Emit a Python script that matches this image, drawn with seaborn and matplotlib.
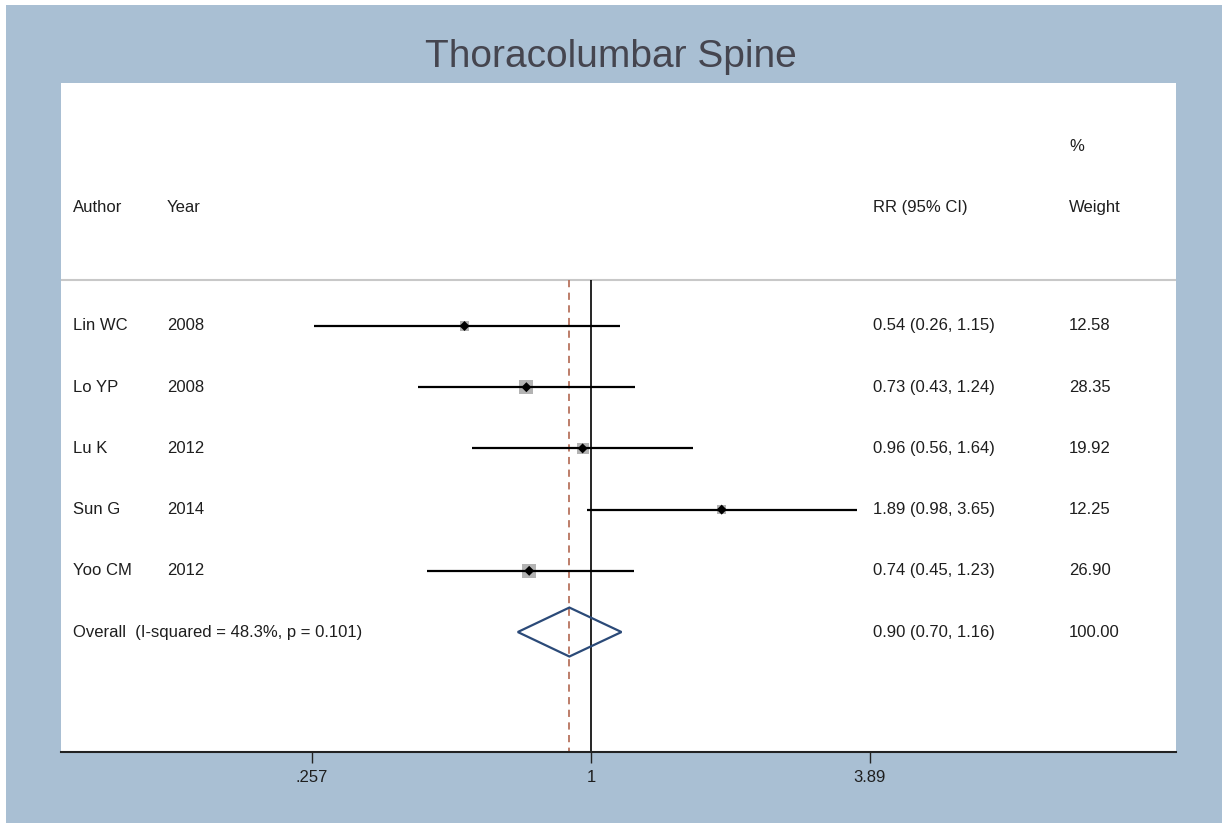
import matplotlib
matplotlib.use("Agg")
import matplotlib.pyplot as plt
from matplotlib.patches import Polygon, Rectangle
import matplotlib.transforms as mtransforms
import numpy as np
import pandas as pd
import seaborn as sns

# ---- data ----
authors = ["Lin WC", "Lo YP", "Lu K", "Sun G", "Yoo CM"]
years = ["2008", "2008", "2012", "2014", "2012"]
rr = [0.54, 0.73, 0.96, 1.89, 0.74]
ci_low = [0.26, 0.43, 0.56, 0.98, 0.45]
ci_high = [1.15, 1.24, 1.64, 3.65, 1.23]
weights = [12.58, 28.35, 19.92, 12.25, 26.90]
overall_rr = 0.90
overall_low = 0.70
overall_high = 1.16
overall_label = "Overall  (I-squared = 48.3%, p = 0.101)"
tick_values = [0.257, 1, 3.89]
tick_labels = [".257", "1", "3.89"]
title = "Thoracolumbar Spine"

df = pd.DataFrame({"author": authors, "year": years, "rr": rr,
                   "lo": ci_low, "hi": ci_high, "w": weights})
df["row"] = np.arange(len(df))

sns.set_theme(style="white")
plt.rcParams["font.family"] = ["Liberation Sans", "DejaVu Sans"]

BG = "#a9bfd3"
TXT = "#1e1e1e"

fig = plt.figure(figsize=(12.22, 8.23), dpi=100, facecolor="white")
fig.patches.append(Rectangle((6 / 1222, 0), 1, 1 - 5 / 823, transform=fig.transFigure,
                             facecolor=BG, edgecolor="none", zorder=-10))
ax = fig.add_axes([61 / 1222, (823 - 752) / 823, 1115 / 1222, (752 - 83) / 823])
ax.set_facecolor("white")

ax.set_xscale("log")
px_per_ln = 205.3
ax.set_xlim(np.exp((61 - 591) / px_per_ln), np.exp((1176 - 591) / px_per_ln))
ylo, yhi = 6.96, -3.97
ax.set_ylim(ylo, yhi)

n = len(df)
overall_row = n
sep_y = -0.75

# reference lines
ax.vlines(1, sep_y, ylo, color="black", lw=1.2, zorder=2)
ax.vlines(overall_rr, sep_y, ylo, color="#b8735e", lw=1.3, linestyles=(0, (4, 3)), zorder=2)
ax.axhline(sep_y, color="#c8c8c8", lw=1.5, zorder=1)

# weight squares
sns.scatterplot(data=df, x="rr", y="row", ax=ax, marker="s", color="#b3b3b3",
                s=df["w"] * 3.6, edgecolor="none", legend=False, zorder=3)
# CI lines
ax.hlines(df["row"], df["lo"], df["hi"], color="black", lw=1.6, zorder=4)
# point estimates
sns.scatterplot(data=df, x="rr", y="row", ax=ax, marker="D", color="black",
                s=26, edgecolor="none", legend=False, zorder=5)

# overall diamond
h = 0.40
diamond = Polygon([(overall_low, overall_row), (overall_rr, overall_row - h),
                   (overall_high, overall_row), (overall_rr, overall_row + h)],
                  closed=True, fill=False, edgecolor="#2b4a78", lw=1.6, zorder=6)
ax.add_patch(diamond)

# text columns
trans = mtransforms.blended_transform_factory(ax.transAxes, ax.transData)
x_author = (73 - 61) / 1115
x_year = (167 - 61) / 1115
x_rr = (873 - 61) / 1115
x_w = (1069 - 61) / 1115
fs = 12
hdr_y = -1.94
ax.text(x_author, hdr_y, "Author", transform=trans, va="center", fontsize=fs, color=TXT)
ax.text(x_year, hdr_y, "Year", transform=trans, va="center", fontsize=fs, color=TXT)
ax.text(x_rr, hdr_y, "RR (95% CI)", transform=trans, va="center", fontsize=fs, color=TXT)
ax.text(x_w, hdr_y, "Weight", transform=trans, va="center", fontsize=fs, color=TXT)
ax.text(x_w, -2.94, "%", transform=trans, va="center", fontsize=fs, color=TXT)

for _, r in df.iterrows():
    ax.text(x_author, r["row"], r["author"], transform=trans, va="center", fontsize=fs, color=TXT)
    ax.text(x_year, r["row"], r["year"], transform=trans, va="center", fontsize=fs, color=TXT)
    ax.text(x_rr, r["row"], f"{r['rr']:.2f} ({r['lo']:.2f}, {r['hi']:.2f})", transform=trans,
            va="center", fontsize=fs, color=TXT)
    ax.text(x_w, r["row"], f"{r['w']:.2f}", transform=trans, va="center", fontsize=fs, color=TXT)

ax.text(x_author, overall_row, overall_label, transform=trans, va="center", fontsize=fs, color=TXT)
ax.text(x_rr, overall_row, f"{overall_rr:.2f} ({overall_low:.2f}, {overall_high:.2f})",
        transform=trans, va="center", fontsize=fs, color=TXT)
ax.text(x_w, overall_row, f"{sum(weights):.2f}", transform=trans, va="center", fontsize=fs, color=TXT)

# axes styling
for s in ["top", "left", "right"]:
    ax.spines[s].set_visible(False)
ax.spines["bottom"].set_color("#222222")
ax.spines["bottom"].set_linewidth(1.5)
ax.set_xticks(tick_values)
ax.set_xticklabels(tick_labels)
ax.xaxis.set_minor_locator(matplotlib.ticker.NullLocator())
ax.tick_params(axis="x", which="major", bottom=True, length=8, width=1.0, color="#222222",
               labelsize=12, labelcolor=TXT, pad=5)
ax.set_yticks([])
ax.set_xlabel("")
ax.set_ylabel("")

fig.text(0.5, 1 - 57 / 823, title, ha="center", va="center", fontsize=28, color="#45454f")

fig.savefig("out.png", dpi=100, facecolor=fig.get_facecolor())
